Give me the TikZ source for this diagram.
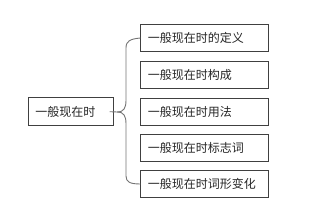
\documentclass[tikz,border=0pt]{standalone}
\usepackage{fontspec}
\setmainfont{Noto Sans CJK SC}
\begin{document}
\begin{tikzpicture}[x=1pt,y=-1pt,
  box/.style={draw=black!75,line width=0.9pt,rectangle,inner xsep=7pt,inner ysep=0pt,
    minimum height=27pt,align=left,font=\fontsize{12}{14}\selectfont,text=black!85},
  leaf/.style={box,text width=114pt},
  rootbox/.style={box,text width=71pt,minimum height=28pt},
  brace/.style={draw=black!55,line width=0.9pt}]
\useasboundingbox (0,0) rectangle (322,216);
\node[rootbox] (root) at (70.8,111.7) {一般现在时};
\node[leaf] (c1) at (204.8,38) {一般现在时的定义};
\node[leaf] (c2) at (204.8,74.8) {一般现在时构成};
\node[leaf] (c3) at (204.8,111.5) {一般现在时用法};
\node[leaf] (c4) at (204.8,147.8) {一般现在时标志词};
\node[leaf] (c5) at (204.8,184) {一般现在时词形变化};
\coordinate (s) at ([xshift=-4pt]root.east);
\coordinate (m) at (117,112);
\draw[brace] (s) -- (m) .. controls (124,112) and (126,108) .. (126,100) -- (126,48) .. controls (126,41) and (130,39) .. (c1.west);
\draw[brace] (m) .. controls (124,112) and (126,116) .. (126,124) -- (126,176) .. controls (126,182) and (130,184) .. (c5.west);
\end{tikzpicture}
\end{document}
